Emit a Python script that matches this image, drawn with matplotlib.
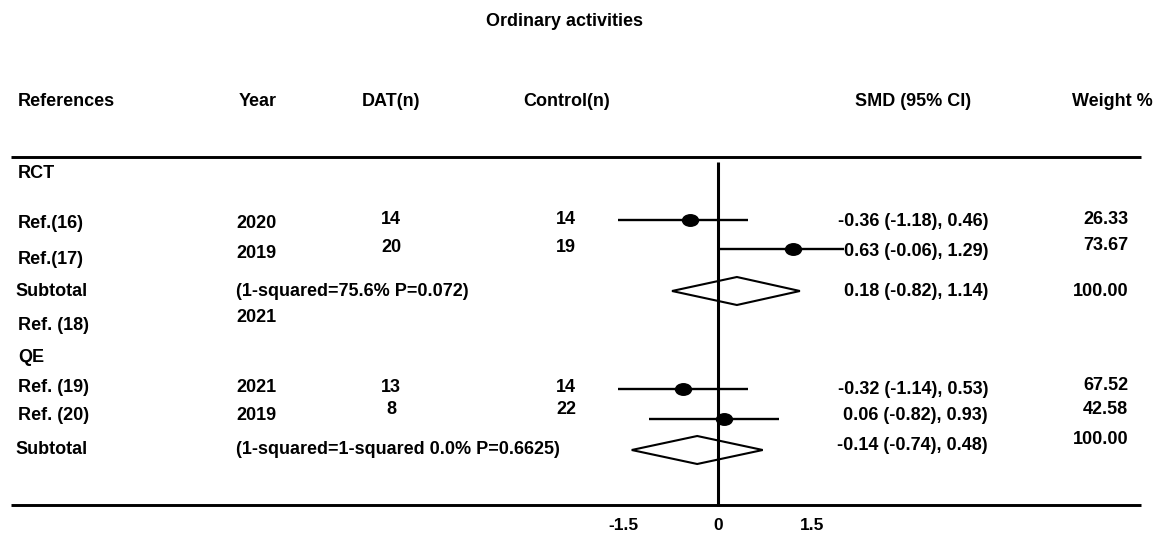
import numpy as np
import matplotlib
matplotlib.use("Agg")
import matplotlib.pyplot as plt
from matplotlib.path import Path
from matplotlib.patches import Polygon
from matplotlib import rcParams

rcParams['font.family'] = ['Liberation Sans', 'DejaVu Sans']
rcParams['font.weight'] = 'bold'
rcParams['font.size'] = 13

W, H = 1157, 535

title = "Ordinary activities"
headers = ["References", "Year", "DAT(n)", "Control(n)", "SMD (95% CI)", "Weight %"]

# table rows
labels = ["RCT", "Ref.(16)", "Ref.(17)", "Subtotal", "Ref. (18)",
          "QE", "Ref. (19)", "Ref. (20)", "Subtotal"]
years = ["", "2020", "2019", "(1-squared=75.6% P=0.072)", "2021",
         "", "2021", "2019", "(1-squared=1-squared 0.0% P=0.6625)"]
dat_n = ["", "14", "20", "", "", "", "13", "8", ""]
ctrl_n = ["", "14", "19", "", "", "", "14", "22", ""]
smd_text = ["", "-0.36 (-1.18), 0.46)", "0.63 (-0.06), 1.29)", "0.18 (-0.82), 1.14)", "",
            "", "-0.32 (-1.14), 0.53)", "0.06 (-0.82), 0.93)", "-0.14 (-0.74), 0.48)"]
weights = ["", "26.33", "73.67", "100.00", "", "", "67.52", "42.58", "100.00"]

# marks as drawn on the plot (SMD units)
study_rows = [1, 2, 6, 7]
study_est = [-0.45, 1.19, -0.56, 0.10]
study_lo = [-1.59, 0.0, -1.59, -1.10]
study_hi = [0.48, 2.0, 0.48, 0.97]
pooled_rows = [3, 8]
pooled_est = [0.30, -0.33]
pooled_lo = [-0.73, -1.37]
pooled_hi = [1.30, 0.71]
xticks = [-1.5, 0, 1.5]

# layout (pixels from top)
label_y = [173, 223, 259, 292, 326, 358, 388, 415, 449]
year_y = [173, 223, 253, 292, 318, 358, 388, 415, 449]
n_y = [173, 220, 248, 292, 318, 358, 388, 410, 449]
smd_y = [173, 222, 251, 291, 318, 358, 389, 416, 445]
weight_y = [173, 220, 246, 291, 318, 358, 385, 410, 440]
mark_y = [0, 220, 249, 291, 0, 0, 389, 419, 450]

fig = plt.figure(figsize=(W / 100, H / 100), dpi=100)
ax = fig.add_axes([0, 0, 1, 1])
ax.set_xlim(0, W)
ax.set_ylim(H, 0)
ax.axis('off')

ax.text(565, 21, title, ha='center', va='center')
hx = [18, 239, 362, 523, 855, 1072]
for x, h in zip(hx, headers):
    ax.text(x, 101, h, ha='left', va='center')

ax.plot([11, 1141], [157, 157], color='black', lw=2.1, solid_capstyle='butt')
ax.plot([11, 1141], [505, 505], color='black', lw=2.1, solid_capstyle='butt')

for i in range(len(labels)):
    lx = 15 if labels[i] == "Subtotal" else 18
    ax.text(lx, label_y[i], labels[i], ha='left', va='center')
    ax.text(236, year_y[i], years[i], ha='left', va='center')
    ax.text(391, n_y[i], dat_n[i], ha='center', va='center')
    ax.text(576, n_y[i], ctrl_n[i], ha='right', va='center')
    ax.text(988, smd_y[i], smd_text[i], ha='right', va='center')
    ax.text(1128, weight_y[i], weights[i], ha='right', va='center')

# forest panel: x in SMD units, y shares the pixel layout
zero_px, px_per_unit = 718, 63.0
fa = fig.add_axes([0, 0, 1, 1])
fa.set_xlim(-zero_px / px_per_unit, (W - zero_px) / px_per_unit)
fa.set_ylim(H, 0)
fa.axis('off')
fa.patch.set_alpha(0)

fa.plot([0, 0], [162, 506], color='black', lw=2.2, solid_capstyle='butt')

circ = Path.unit_circle()
dot = Path(circ.vertices * np.array([1.0, 0.72]), circ.codes)

for r, est, lo, hi in zip(study_rows, study_est, study_lo, study_hi):
    y = mark_y[r]
    fa.plot([lo, hi], [y, y], color='black', lw=1.7, solid_capstyle='butt')
    fa.plot([est], [y], marker=dot, markersize=11.5, color='black', linestyle='none')

for r, est, lo, hi in zip(pooled_rows, pooled_est, pooled_lo, pooled_hi):
    y = mark_y[r]
    dia = Polygon([[lo, y], [est, y - 14], [hi, y], [est, y + 14]], closed=True,
                  facecolor='none', edgecolor='black', lw=1.5)
    fa.add_patch(dia)

for t in xticks:
    fa.text(t, 525, f"{t:g}", ha='center', va='center', fontsize=12.5)

fig.savefig("out.png", dpi=100)
